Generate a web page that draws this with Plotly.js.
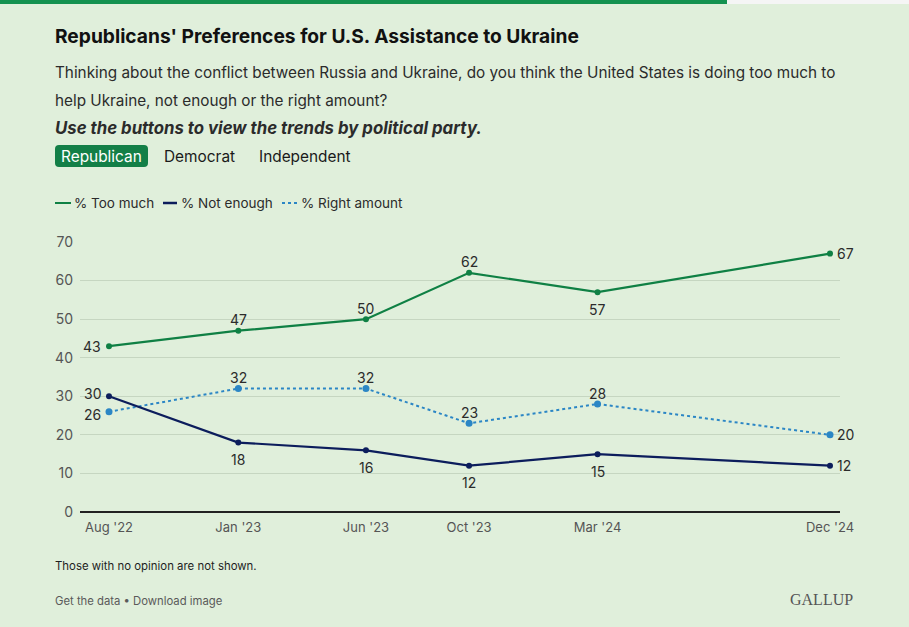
<!DOCTYPE html>
<html><head><meta charset="utf-8">
<script src="https://cdn.plot.ly/plotly-3.0.1.min.js"></script>
<style>html,body{margin:0;padding:0;background:#e0efdb;} #chart{width:909px;height:627px;}</style>
</head><body><div id="chart"></div>
<script>
// ---- data ----
const dates = ['2022-08-01','2023-01-01','2023-06-01','2023-10-01','2024-03-01','2024-12-01'];
const tickLabels = ["Aug '22","Jan '23","Jun '23","Oct '23","Mar '24","Dec '24"];
const tooMuch = [43,47,50,62,57,67];
const notEnough = [30,18,16,12,15,12];
const rightAmount = [26,32,32,23,28,20];
const seriesNames = ['% Too much','% Not enough','% Right amount'];
const buttons = ['Republican','Democrat','Independent'];
const titleText = "Republicans' Preferences for U.S. Assistance to Ukraine";
const subtitleLines = ["Thinking about the conflict between Russia and Ukraine, do you think the United States is doing too much to",
                       "help Ukraine, not enough or the right amount?"];
const instructionText = "Use the buttons to view the trends by political party.";
const noteText = "Those with no opinion are not shown.";
const linksText = "Get the data • Download image";
const brandText = "GALLUP";

// ---- styling ----
const W = 909, H = 627;
const M = {l: 80, r: 69, t: 242, b: 115};
const BG = '#e0efdb';
const GREEN = '#0f8044', NAVY = '#0c1d5c', BLUE = '#2b86c5';
const FONT = 'Inter, "Noto Sans", sans-serif';
const PW = W - M.l - M.r, PH = H - M.t - M.b;
const px = x => (x - M.l) / PW;
const py = y => (H - M.b - y) / PH;

// x range from pixel positions of first/last data points
const t0 = Date.parse(dates[0]), t1 = Date.parse(dates[dates.length-1]);
const k = (830 - 109) / (t1 - t0);
const xr = [new Date(t0 - (109 - M.l) / k).toISOString(), new Date(t1 + (M.l + PW - 830) / k).toISOString()];

// label placement per point: L=left, T=top, B=bottom, R=right (with optional vertical nudge)
const placeTM = [['L',0],['T',0],['T',0],['T',0],['B',0],['R',0]];
const placeNE = [['L',3],['B',0],['B',0],['B',0],['B',0],['R',0]];
const placeRA = [['L',-3],['T',0],['T',0],['T',0],['T',0],['R',0]];

function tr(y, name, color, dash, msize, width) {
  return {
    x: dates, y: y, name: name, type: 'scatter', mode: 'lines+markers',
    line: {color: color, width: width, dash: dash},
    marker: {color: color, size: msize},
    cliponaxis: false, showlegend: false, hoverinfo: 'skip'
  };
}

const data = [
  tr(rightAmount, seriesNames[2], BLUE, 'dot', 7, 2),
  tr(notEnough, seriesNames[1], NAVY, 'solid', 6, 2.2),
  tr(tooMuch, seriesNames[0], GREEN, 'solid', 6, 2.2)
];

function labels(y, place) {
  return y.map((v, i) => {
    const p = place[i][0], nudge = place[i][1];
    const a = {x: dates[i], y: v, xref: 'x', yref: 'y', text: String(v), showarrow: false,
      borderpad: 0, borderwidth: 0, font: {family: FONT, size: 14, color: '#2b2b2b'}, yanchor: 'middle'};
    if (p === 'L') { a.xanchor = 'right'; a.xshift = -8; a.yshift = nudge; }
    else if (p === 'R') { a.xanchor = 'left'; a.xshift = 7; a.yshift = nudge; }
    else if (p === 'T') { a.xanchor = 'center'; a.yshift = 11; }
    else { a.xanchor = 'center'; a.yshift = -17; }
    return a;
  });
}

const shapes = [
  {type:'rect', xref:'paper', yref:'paper', x0:px(0), x1:px(727), y0:py(0), y1:py(4), fillcolor:'#149250', line:{width:0}, layer:'above'},
  {type:'rect', xref:'paper', yref:'paper', x0:px(727), x1:px(909), y0:py(0), y1:py(4), fillcolor:'#f5f5f5', line:{width:0}, layer:'above'},
  // active button (rounded rect)
  {type:'path', xref:'paper', yref:'paper', xsizemode:'pixel', ysizemode:'pixel', xanchor:px(55), yanchor:py(167),
   path:'M 4 0 L 89 0 Q 93 0 93 4 L 93 18 Q 93 22 89 22 L 4 22 Q 0 22 0 18 L 0 4 Q 0 0 4 0 Z',
   fillcolor:'#137f47', line:{width:0}},
  // legend swatches
  {type:'line', xref:'paper', yref:'paper', x0:px(55), x1:px(71), y0:py(203), y1:py(203), line:{color:GREEN, width:2}},
  {type:'line', xref:'paper', yref:'paper', x0:px(163), x1:px(177), y0:py(203), y1:py(203), line:{color:NAVY, width:2.5}},
  {type:'line', xref:'paper', yref:'paper', x0:px(282), x1:px(298), y0:py(203), y1:py(203), line:{color:BLUE, width:2, dash:'dot'}}
];

function ann(text, x, y, size, color, family) {
  return {text: text, xref:'paper', yref:'paper', x:px(x), y:py(y), xanchor:'left', yanchor:'middle',
    showarrow:false, align:'left', borderpad:0, borderwidth:0, font:{family:family || FONT, size:size, color:color}};
}

const annotations = [
  ann(subtitleLines[0], 55, 73, 15.3, '#2b2b2b'),
  ann(subtitleLines[1], 55, 100, 15.3, '#2b2b2b'),
  ann('<b><i>' + instructionText + '</i></b>', 55, 128, 16.8, '#2b2b2b'),
  ann(buttons[0], 61, 156, 15.4, '#ffffff'),
  ann(buttons[1], 164, 156, 15.4, '#1a1a1a'),
  ann(buttons[2], 259, 156, 15.4, '#1a1a1a'),
  ann(seriesNames[0], 74, 203, 13.5, '#2b2b2b'),
  ann(seriesNames[1], 181, 203, 13.5, '#2b2b2b'),
  ann(seriesNames[2], 301, 203, 13.5, '#2b2b2b'),
  ann(noteText, 55, 566, 11.4, '#1e1e1e'),
  ann(linksText, 55, 601, 11.3, '#5a5a5a'),
  Object.assign(ann(brandText, 853, 599, 16, '#555555', '"Liberation Serif", "DejaVu Serif", serif'), {xanchor:'right'})
].concat(labels(tooMuch, placeTM), labels(notEnough, placeNE), labels(rightAmount, placeRA));

const layout = {
  width: W, height: H, margin: M,
  paper_bgcolor: BG, plot_bgcolor: BG,
  font: {family: FONT, color: '#333'},
  title: {text: '<b>' + titleText + '</b>', x: 55 / W, xref: 'container', xanchor: 'left',
          y: 1 - 36 / H, yref: 'container', yanchor: 'middle',
          font: {family: FONT, size: 19.2, color: '#111'}},
  xaxis: {type: 'date', range: xr, tickvals: dates, ticktext: tickLabels, showgrid: false,
          showline: false, zeroline: false, ticks: '', ticklabelstandoff: 6,
          tickfont: {family: FONT, size: 13, color: '#555'}, fixedrange: true},
  yaxis: {range: [0, 70], tickvals: [0,10,20,30,40,50,60,70], showgrid: true, gridcolor: '#c6d6c1', gridwidth: 1,
          zeroline: true, zerolinecolor: '#222', zerolinewidth: 1.5, ticks: '', ticklabelstandoff: 6,
          tickfont: {family: FONT, size: 14, color: '#555'}, fixedrange: true},
  shapes: shapes, annotations: annotations, showlegend: false
};
Plotly.newPlot('chart', data, layout, {displayModeBar: false, staticPlot: true});
</script></body></html>
